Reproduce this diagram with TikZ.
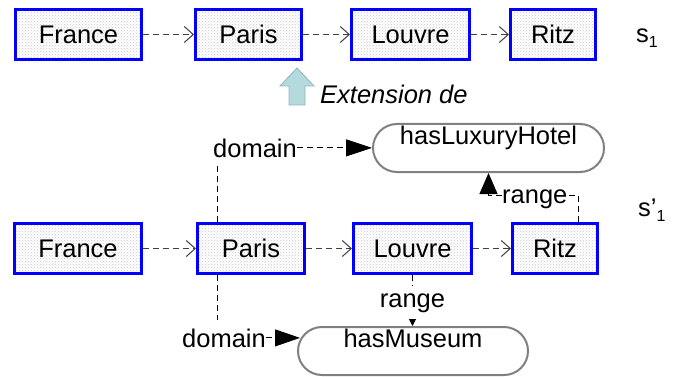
\documentclass[tikz,border=0pt]{standalone}
\usepackage{fontspec}
\setmainfont{Liberation Sans}
\usetikzlibrary{arrows.meta,patterns,calc,shapes.misc}
\definecolor{arrfill}{RGB}{180,218,222}
\definecolor{arrdraw}{RGB}{140,182,188}
\definecolor{entblue}{RGB}{0,0,255}
\begin{document}
\begin{tikzpicture}[x=1pt,y=-1pt,
  every node/.style={font=\fontsize{25.5}{30}\selectfont},
  ent/.style={draw=entblue, line width=3pt, preaction={fill=white}, pattern=crosshatch dots, pattern color=black!22, minimum height=50pt, inner sep=0pt, text height=18.3pt, text depth=0pt},
  prop/.style={rounded rectangle, draw=black!50, line width=2pt, fill=white, minimum height=48pt, inner sep=0pt, text height=18pt, text depth=26pt},
  lnk/.style={draw=black!75, line width=1pt, dash pattern=on 6pt off 4pt, -{Straight Barb[length=9pt,width=16pt]}},
  rel/.style={draw=black, line width=1pt, dash pattern=on 6pt off 4pt},
  lbl/.style={inner sep=0pt},
]
\useasboundingbox (0,0) rectangle (674,377);

% top row
\node[ent, minimum width=126pt] (f1) at (78.5,34.5) {France};
\node[ent, minimum width=106pt] (p1) at (248.5,34.5) {Paris};
\node[ent, minimum width=118pt] (l1) at (410.5,34.5) {Louvre};
\node[ent, minimum width=85pt] (r1) at (553,34.5) {Ritz};
\draw[lnk] (f1) -- (p1);
\draw[lnk] (p1) -- (l1);
\draw[lnk] (l1) -- (r1);
\node[anchor=base west, inner sep=0pt] (s1) at (636,43) {s\raisebox{-5pt}{\fontsize{16}{16}\selectfont 1}};

% extension arrow
\filldraw[fill=arrfill, draw=arrdraw, line width=0.8pt] (297,68) -- (314,86) -- (305,86) -- (305,105) -- (289,105) -- (289,86) -- (280,86) -- cycle;
\node[anchor=base west, inner sep=0pt, font=\fontsize{25.5}{30}\selectfont\itshape] (ext) at (320,103.5) {Extension de};

% bottom row
\node[ent, minimum width=127pt] (f2) at (78,248.5) {France};
\node[ent, minimum width=107pt] (p2) at (251,248.5) {Paris};
\node[ent, minimum width=118pt] (l2) at (412.5,248.5) {Louvre};
\node[ent, minimum width=85pt] (r2) at (555,248.5) {Ritz};
\draw[lnk] (f2) -- (p2);
\draw[lnk] (p2) -- (l2);
\draw[lnk] (l2) -- (r2);
\node[anchor=base west, inner sep=0pt] (s2) at (638,216) {s’\raisebox{-5pt}{\fontsize{16}{16}\selectfont 1}};

% properties
\node[prop, minimum width=231pt] (hlh) at (488.5,148) {hasLuxuryHotel};
\node[prop, minimum width=230pt] (hm) at (413,351) {hasMuseum};

% domain top
\node[lbl, anchor=base west] (doma) at (213,157) {domain};
\draw[rel, -{Triangle[length=26pt,width=17pt]}] (doma.east) -- (doma.east -| hlh.west);
\coordinate (dv1) at (217,165);
\draw[rel] (p2.north -| dv1) -- (dv1);

% domain bottom
\coordinate (dv2) at (217,320);
\draw[rel] (p2.south -| dv2) -- (dv2);
\node[lbl, anchor=base west] (domb) at (182,347) {domain};
\draw[rel, -{Triangle[length=25pt,width=17pt]}] (domb.east) -- ($(domb.east -| hm.west)+(3,0)$);

% range bottom
\node[inner xsep=0pt, inner ysep=8pt, anchor=base] (rngb) at (412.5,307) {range};
\draw[rel] (l2.south) -- (rngb.north);
\draw[rel, -{Triangle[length=7pt,width=7pt]}] (rngb.south) -- (rngb.south |- hm.north);

% range top
\node[lbl, text height=20pt, text depth=5pt, anchor=base west] (rnga) at (502,203) {range};
\coordinate (rx) at (578,0);
\draw[rel] (r2.north -| rx) |- (rnga.east);
\draw[rel, -{Triangle[length=21pt,width=18pt]}] (rnga.west) -| (hlh.south);
\end{tikzpicture}
\end{document}
